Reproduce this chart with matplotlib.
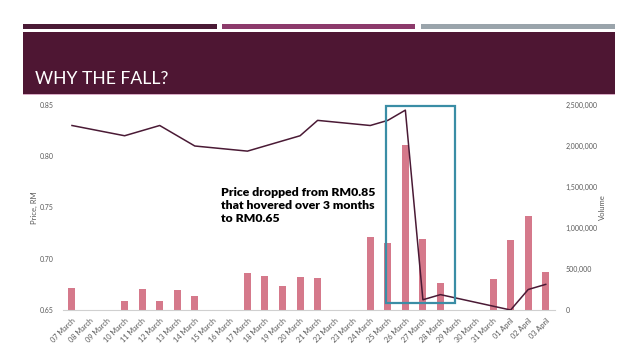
import numpy as np
import matplotlib
matplotlib.use("Agg")
import matplotlib.pyplot as plt
from matplotlib.patches import Rectangle
from matplotlib.ticker import FuncFormatter, MultipleLocator

categories = ["07 March", "08 March", "09 March", "10 March", "11 March", "12 March",
              "13 March", "14 March", "15 March", "16 March", "17 March", "18 March",
              "19 March", "20 March", "21 March", "22 March", "23 March", "24 March",
              "25 March", "26 March", "27 March", "28 March", "29 March", "30 March",
              "31 March", "01 April", "02 April", "03 April"]

volume = [270000, 0, 0, 105000, 257000, 114000, 248000, 167000, 0, 0, 453000, 416000,
          294000, 408000, 392000, 0, 0, 885000, 816000, 2010000, 869000, 330000, 0, 0,
          383000, 848000, 1150000, 461000]

nan = np.nan
price = [0.83, nan, nan, 0.82, nan, 0.83, nan, 0.81, nan, nan, 0.805, nan,
         nan, 0.82, 0.835, nan, nan, 0.83, 0.835, 0.845, 0.66, 0.665, nan, nan,
         nan, 0.65, 0.67, 0.675]

title = "WHY THE FALL?"
note = "Price dropped from RM0.85\nthat hovered over 3 months\nto RM0.65"

W, H = 638, 359
fig = plt.figure(figsize=(W / 100, H / 100), dpi=100)
fig.patch.set_facecolor("white")

def px_rect(x0, y0, x1, y1, color, z=1):
    fig.add_artist(Rectangle((x0 / W, 1 - y1 / H), (x1 - x0) / W, (y1 - y0) / H,
                             transform=fig.transFigure, facecolor=color,
                             edgecolor="none", zorder=z))

# header bars
px_rect(23, 24, 217, 28.5, "#4a1a35")
px_rect(222, 24, 415, 28.5, "#8c3a6b")
px_rect(421, 24, 615, 28.5, "#9aa4ab")
# title box
px_rect(23, 32, 615, 94, "#4e1633")
px_rect(23, 94, 615, 95.3, "#d8a9c4")
fig.text(35 / W, 1 - 83.5 / H, title, color="white", fontsize=12.6,
         family="Lato", ha="left", va="baseline")

# axes
left, right = 63.2, 554.5
top, bottom = 105, 310
ax = fig.add_axes([left / W, 1 - bottom / H, (right - left) / W, (bottom - top) / H])
ax2 = ax.twinx()
ax.set_zorder(ax2.get_zorder() + 1)
ax.patch.set_visible(False)

x = np.arange(len(categories))
ax2.bar(x, volume, width=0.4, color="#d5798b", zorder=2)
ax2.set_ylim(0, 2500000)
ax2.yaxis.set_major_locator(MultipleLocator(500000))
ax2.yaxis.set_major_formatter(FuncFormatter(lambda v, p: f"{int(v):,}"))

p = np.array(price, dtype=float)
m = ~np.isnan(p)
ax.plot(x[m], p[m], color="#4a1a35", lw=1.1, zorder=5)
ax.set_ylim(0.65, 0.85)
ax.set_xlim(-0.5, len(categories) - 0.5)
ax.yaxis.set_major_locator(MultipleLocator(0.05))
ax.yaxis.set_major_formatter(FuncFormatter(lambda v, p: f"{v:.2f}"))

for a in (ax, ax2):
    for s in a.spines.values():
        s.set_visible(False)
    a.tick_params(length=0, labelsize=5, colors="#595959")
ax.spines["bottom"].set_visible(True)
ax.spines["bottom"].set_color("#d0d0d0")
ax.spines["bottom"].set_linewidth(0.8)

ax.set_xticks(x)
ax.set_xticklabels(categories, rotation=45, ha="right", rotation_mode="anchor",
                   fontsize=5.3, color="#595959", family="Lato")
ax.tick_params(axis="x", pad=5)
ax.tick_params(axis="y", pad=7)
ax2.tick_params(axis="y", pad=8)
for lab in ax.get_yticklabels() + ax2.get_yticklabels():
    lab.set_family("Lato")

ax.set_ylabel("Price, RM", fontsize=5.5, color="#595959", family="Lato", labelpad=1)
ax2.set_ylabel("Volume", fontsize=5.5, color="#595959", family="Lato", labelpad=1)

# highlight box
ax.add_patch(Rectangle((17.88, 0.6565), 3.96, 0.1925, transform=ax.transData,
                       fill=False, edgecolor="#3a8da5", lw=1.6, clip_on=False, zorder=6))

ax.text(8.5, 0.752, note, fontsize=8.8, fontweight="heavy", family="Lato",
        color="black", ha="left", va="center", linespacing=1.2, zorder=7)

fig.savefig("out.png", dpi=100)
